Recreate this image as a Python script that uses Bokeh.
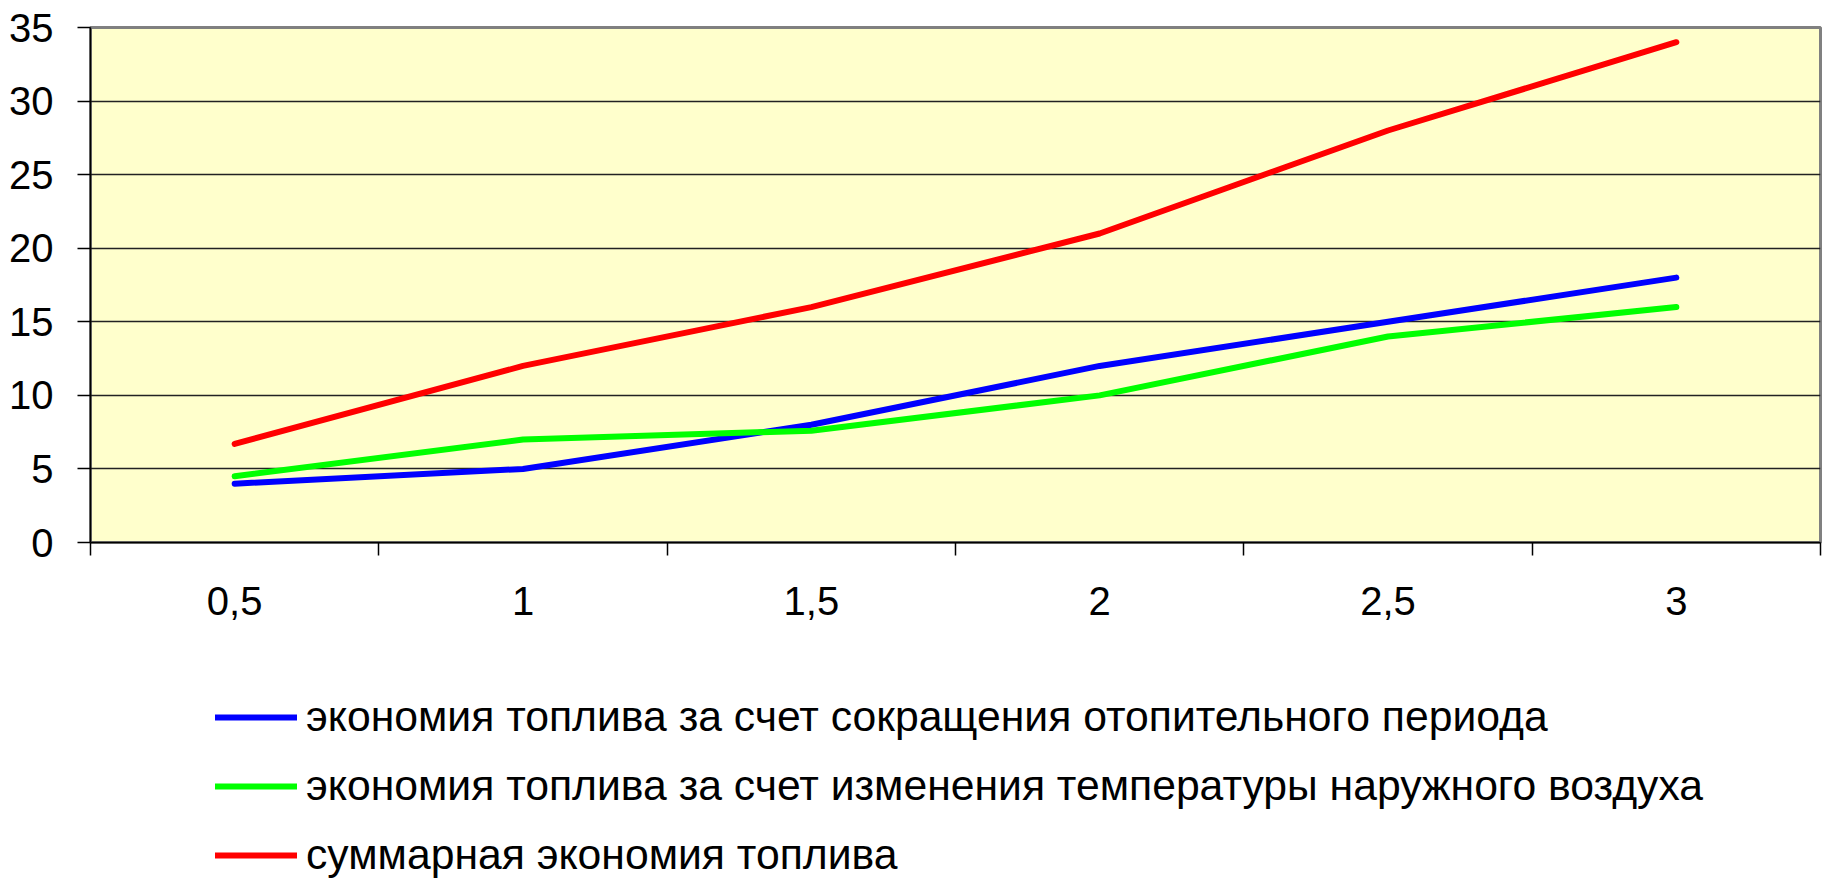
from bokeh.plotting import figure
from bokeh.layouts import column
from bokeh.models import Range1d, FixedTicker, Legend, LegendItem
from bokeh.embed import file_html
from bokeh.resources import INLINE

# ---- data ----
categories = ["0,5", "1", "1,5", "2", "2,5", "3"]
period_savings = [4, 5, 8, 12, 15, 18]
temperature_savings = [4.5, 7, 7.6, 10, 14, 16]
total_savings = [6.7, 12, 16, 21, 28, 34]
series_names = [
    "экономия топлива за счет сокращения отопительного периода",
    "экономия топлива за счет изменения температуры наружного воздуха",
    "суммарная экономия топлива",
]
series_colors = ["#0000FF", "#00FF00", "#FF0000"]
y_ticks = [0, 5, 10, 15, 20, 25, 30, 35]

FONT = "Liberation Sans"
FS = "40px"
LEG_FS = "42.7px"
W = 1823
H_MAIN = 630
H_LEG = 250
LINE_W = 6

x = [2 * i + 1 for i in range(len(categories))]
boundaries = [2 * i for i in range(len(categories) + 1)]

p = figure(
    width=W, height=H_MAIN,
    output_backend="svg", toolbar_location=None,
    x_range=Range1d(0, 2 * len(categories)), y_range=Range1d(0, 35),
    min_border_left=90, min_border_top=27, min_border_right=3, min_border_bottom=H_MAIN - 542,
)
p.background_fill_color = "#FFFFCC"
p.border_fill_color = "white"
p.outline_line_color = "#808080"
p.outline_line_width = 3

# x axis: labels at category centres, tick marks between categories
p.xaxis.ticker = FixedTicker(ticks=x, minor_ticks=boundaries)
p.xaxis.major_label_overrides = {xi: c for xi, c in zip(x, categories)}
p.xaxis.major_tick_out = 0
p.xaxis.major_tick_in = 0
p.xaxis.major_tick_line_color = None
p.xaxis.minor_tick_out = 13
p.xaxis.minor_tick_in = 0
p.xaxis.minor_tick_line_color = "black"
p.xaxis.minor_tick_line_width = 1.5
p.xaxis.major_label_standoff = 31

# y axis
p.yaxis.ticker = FixedTicker(ticks=y_ticks)
p.yaxis.minor_tick_line_color = None
p.yaxis.major_tick_out = 13
p.yaxis.major_tick_in = 0
p.yaxis.major_tick_line_color = "black"
p.yaxis.major_tick_line_width = 1.5
p.yaxis.major_label_standoff = 24

for ax in (p.xaxis, p.yaxis):
    ax.axis_line_color = "black"
    ax.axis_line_width = 1.5
    ax.major_label_text_font = FONT
    ax.major_label_text_font_size = FS
    ax.major_label_text_color = "black"

p.xgrid.visible = False
p.ygrid.ticker = FixedTicker(ticks=y_ticks)
p.ygrid.grid_line_color = "#222222"
p.ygrid.grid_line_width = 1.3

for ys, col in zip([period_savings, temperature_savings, total_savings], series_colors):
    p.line(x, ys, line_width=LINE_W, line_color=col, line_cap="round", line_join="round")

# ---- legend strip below the chart ----
lg = figure(
    width=W, height=H_LEG,
    output_backend="svg", toolbar_location=None,
    x_range=Range1d(0, 1), y_range=Range1d(0, 1),
    x_axis_location=None, y_axis_location=None, min_border=0,
)
lg.grid.visible = False
lg.outline_line_color = None
lg.background_fill_color = "white"
lg.border_fill_color = "white"

items = []
for col, name in zip(series_colors, series_names):
    # legend-only renderer (single empty point, nothing visible in the strip)
    r = lg.line(x=[float("nan")], y=[float("nan")], line_width=LINE_W, line_color=col, line_cap="round")
    items.append(LegendItem(label=name, renderers=[r]))

legend = Legend(
    items=items, location=(125, 1), orientation="vertical",
    glyph_width=82, glyph_height=40, label_height=40, label_standoff=9,
    spacing=20, padding=0, margin=0,
    border_line_color=None, background_fill_alpha=0,
    label_text_font=FONT, label_text_font_size=LEG_FS, label_text_color="black",
)
lg.add_layout(legend, "center")

layout = column(p, lg, spacing=0)
open("out.html", "w").write(file_html(layout, INLINE))
